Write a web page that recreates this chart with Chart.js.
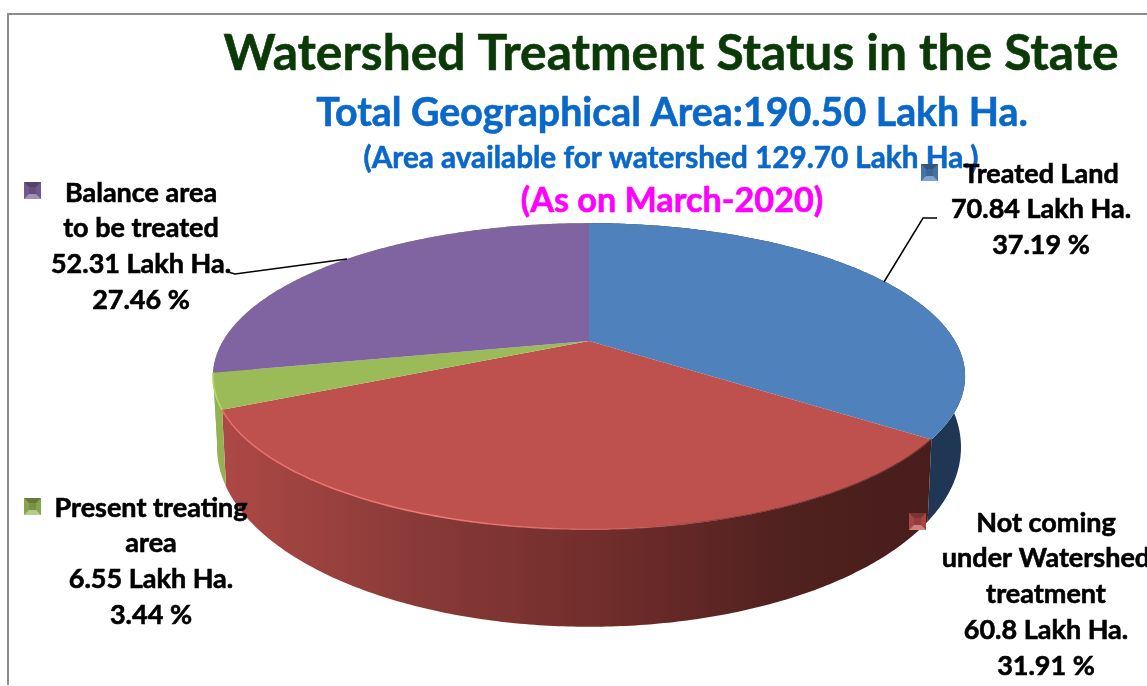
<!DOCTYPE html>
<html>
<head>
<meta charset="utf-8">
<title>Watershed Treatment Status</title>
<script src="https://cdn.jsdelivr.net/npm/chart.js@4/dist/chart.umd.js"></script>
<style>
    html, body { margin: 0; background: #fff; overflow: hidden; }
    canvas { display: block; }
</style>
</head>
<body>
<canvas id="pie" width="1147" height="686"></canvas>
<script>
// values as printed on the slide
const categories = ['Treated Land', 'Not coming under Watershed treatment', 'Present treating area', 'Balance area to be treated'];
const areaLakhHa = [70.84, 60.8, 6.55, 52.31];
const sharePercent = [37.19, 31.91, 3.44, 27.46];
const nameLines = [['Treated Land'], ['Not coming', 'under Watershed', 'treatment'], ['Present treating', 'area'], ['Balance area', 'to be treated']];

const topColors = ['#4f81bd', '#be504d', '#9bbb59', '#8064a2'];
const sideColors = ['#1f3654', '#6d2b29', '#94b253', '#94b253'];

const FONT = 'Lato, "Open Sans", sans-serif';
const labelFont = 'bold 27px ' + FONT;

// [center x, first line y]
const labelPos = [[1041, 174], [1046, 523], [151, 508], [141, 193]];
const markerPos = [[921, 164], [909, 513], [24, 498], [24, 182]];

// perspective of the disc
const view = {
    cx: 589, k: 0.23,
    top: { a: 366, b: 145, cy: 341 },
    bottom: { a: 362, b: 170, cy: 406 },
    skew: 8 * Math.PI / 180
};

function project(angle, plane) {
    // chart.js angle -> position on the tilted disc
    let t = angle + Math.PI / 2;
    // the reference is drawn a bit squeezed on its right hand side
    if (t < Math.PI * 5 / 3) t = t - view.skew * Math.sin(t * 0.6);
    const u = Math.sin(t), v = -Math.cos(t);
    const d = 1 - view.k * v;
    return { x: view.cx + plane.a * u / d, y: plane.cy + plane.b * v / d };
}

function arcPoints(start, end, plane) {
    const pts = [];
    const n = Math.max(2, Math.ceil((end - start) / 0.01));
    for (let i = 0; i <= n; i++) {
        pts.push(project(start + (end - start) * i / n, plane));
    }
    return pts;
}

function tracePoints(ctx, pts) {
    pts.forEach(p => ctx.lineTo(p.x, p.y));
}

function drawWall(ctx, arc, i) {
    const upper = arcPoints(arc.startAngle, arc.endAngle, view.top);
    const lower = arcPoints(arc.startAngle, arc.endAngle, view.bottom).reverse();
    ctx.beginPath();
    tracePoints(ctx, upper);
    tracePoints(ctx, lower);
    ctx.closePath();
    if (i === 1) {
        const g = ctx.createLinearGradient(228, 0, 930, 0);
        g.addColorStop(0, '#ac4845');
        g.addColorStop(0.25, '#8b3b39');
        g.addColorStop(0.52, '#722e2c');
        g.addColorStop(0.8, '#4f211f');
        g.addColorStop(1, '#481d1b');
        ctx.fillStyle = g;
    } else {
        ctx.fillStyle = sideColors[i];
    }
    ctx.fill();
}

function drawTop(ctx, arc, i) {
    ctx.beginPath();
    ctx.moveTo(view.cx, view.top.cy);
    tracePoints(ctx, arcPoints(arc.startAngle, arc.endAngle, view.top));
    ctx.closePath();
    ctx.fillStyle = topColors[i];
    ctx.fill();
}

function drawRim(ctx, arc, i) {
    // bright bevel on the front edge
    const pts = arcPoints(arc.startAngle, arc.endAngle, view.top);
    let g = ctx.createLinearGradient(228, 0, 930, 0);
    if (i === 1) {
        g.addColorStop(0, 'rgba(232,110,105,0.9)');
        g.addColorStop(0.3, 'rgba(245,125,120,0.9)');
        g.addColorStop(0.55, 'rgba(225,105,100,0.5)');
        g.addColorStop(0.7, 'rgba(90,35,33,0.5)');
        g.addColorStop(1, 'rgba(70,28,26,0.7)');
    } else if (i === 2) {
        g = '#b7d86c';
    } else {
        return;
    }
    ctx.beginPath();
    ctx.moveTo(pts[0].x, pts[0].y);
    tracePoints(ctx, pts);
    ctx.strokeStyle = g;
    ctx.lineWidth = 1.6;
    ctx.stroke();
}

function drawMarker(ctx, x, y, color) {
    const s = 17, m = 5;
    ctx.fillStyle = color;
    ctx.fillRect(x, y, s, s);
    // little bevelled square like the old legend keys
    const facet = (pts, fill) => {
        ctx.beginPath();
        pts.forEach(p => ctx.lineTo(x + p[0], y + p[1]));
        ctx.closePath();
        ctx.fillStyle = fill;
        ctx.fill();
    };
    facet([[0, 0], [s, 0], [s - m, m], [m, m]], 'rgba(0,0,0,0.35)');
    facet([[0, s], [s, s], [s - m, s - m], [m, s - m]], 'rgba(255,255,255,0.28)');
    facet([[0, 0], [m, m], [m, s - m], [0, s]], 'rgba(0,0,0,0.12)');
    facet([[s, 0], [s - m, m], [s - m, s - m], [s, s]], 'rgba(0,0,0,0.12)');
    ctx.fillStyle = 'rgba(0,0,0,0.22)';
    ctx.fillRect(x + m, y + m, s - 2 * m, s - 2 * m);
}

function drawLine(ctx, pts) {
    ctx.beginPath();
    pts.forEach(p => ctx.lineTo(p[0], p[1]));
    ctx.strokeStyle = '#000';
    ctx.lineWidth = 1.5;
    ctx.stroke();
}

function centerText(ctx, text, x, y, font, color) {
    ctx.font = font;
    ctx.fillStyle = color;
    ctx.strokeStyle = color;
    ctx.lineWidth = 0.6;
    ctx.textAlign = 'center';
    ctx.textBaseline = 'middle';
    ctx.fillText(text, x, y);
    ctx.strokeText(text, x, y);
}

const pie3d = {
    id: 'pie3d',
    beforeDraw(chart) {
        const ctx = chart.ctx;
        ctx.fillStyle = '#8c8c8c';
        ctx.fillRect(7, 13, 1140, 2);
        ctx.fillRect(7, 13, 2, 672);
    },
    beforeDatasetsDraw(chart) {
        const ctx = chart.ctx;
        const arcs = chart.getDatasetMeta(0).data;
        ctx.save();
        arcs.forEach((arc, i) => drawWall(ctx, arc, i));
        arcs.forEach((arc, i) => drawTop(ctx, arc, i));
        arcs.forEach((arc, i) => drawRim(ctx, arc, i));
        ctx.restore();
        return false;
    },
    afterDraw(chart) {
        const ctx = chart.ctx;
        ctx.save();
        centerText(ctx, 'Watershed Treatment Status in the State', 671, 54, 'bold 49.7px ' + FONT, '#0b3a08');
        centerText(ctx, 'Total Geographical Area:190.50 Lakh Ha.', 672, 113, 'bold 39.3px ' + FONT, '#0a68c9');
        centerText(ctx, '(Area available for watershed 129.70 Lakh Ha.)', 671, 158, 'bold 29.7px ' + FONT, '#0a68c9');
        centerText(ctx, '(As on March-2020)', 672, 201, 'bold 34.2px ' + FONT, '#ff00ff');

        drawLine(ctx, [[228, 272], [235, 274], [347, 259]]);
        drawLine(ctx, [[884, 282], [923, 218], [937, 218]]);

        labelPos.forEach((pos, i) => {
            const lines = nameLines[i].concat([areaLakhHa[i] + ' Lakh Ha.', sharePercent[i] + ' %']);
            lines.forEach((line, n) => {
                centerText(ctx, line, pos[0], pos[1] + n * 35.7, labelFont, '#000');
            });
            drawMarker(ctx, markerPos[i][0], markerPos[i][1], topColors[i]);
        });
        ctx.restore();
    }
};

new Chart(document.getElementById('pie'), {
    type: 'pie',
    data: {
        labels: categories,
        datasets: [{
            label: 'Area (Lakh Ha.)',
            data: areaLakhHa,
            backgroundColor: topColors,
            borderWidth: 0
        }]
    },
    options: {
        responsive: false,
        animation: false,
        plugins: {
            legend: { display: false },
            title: { display: false },
            tooltip: { enabled: false }
        }
    },
    plugins: [pie3d]
});
</script>
</body>
</html>
